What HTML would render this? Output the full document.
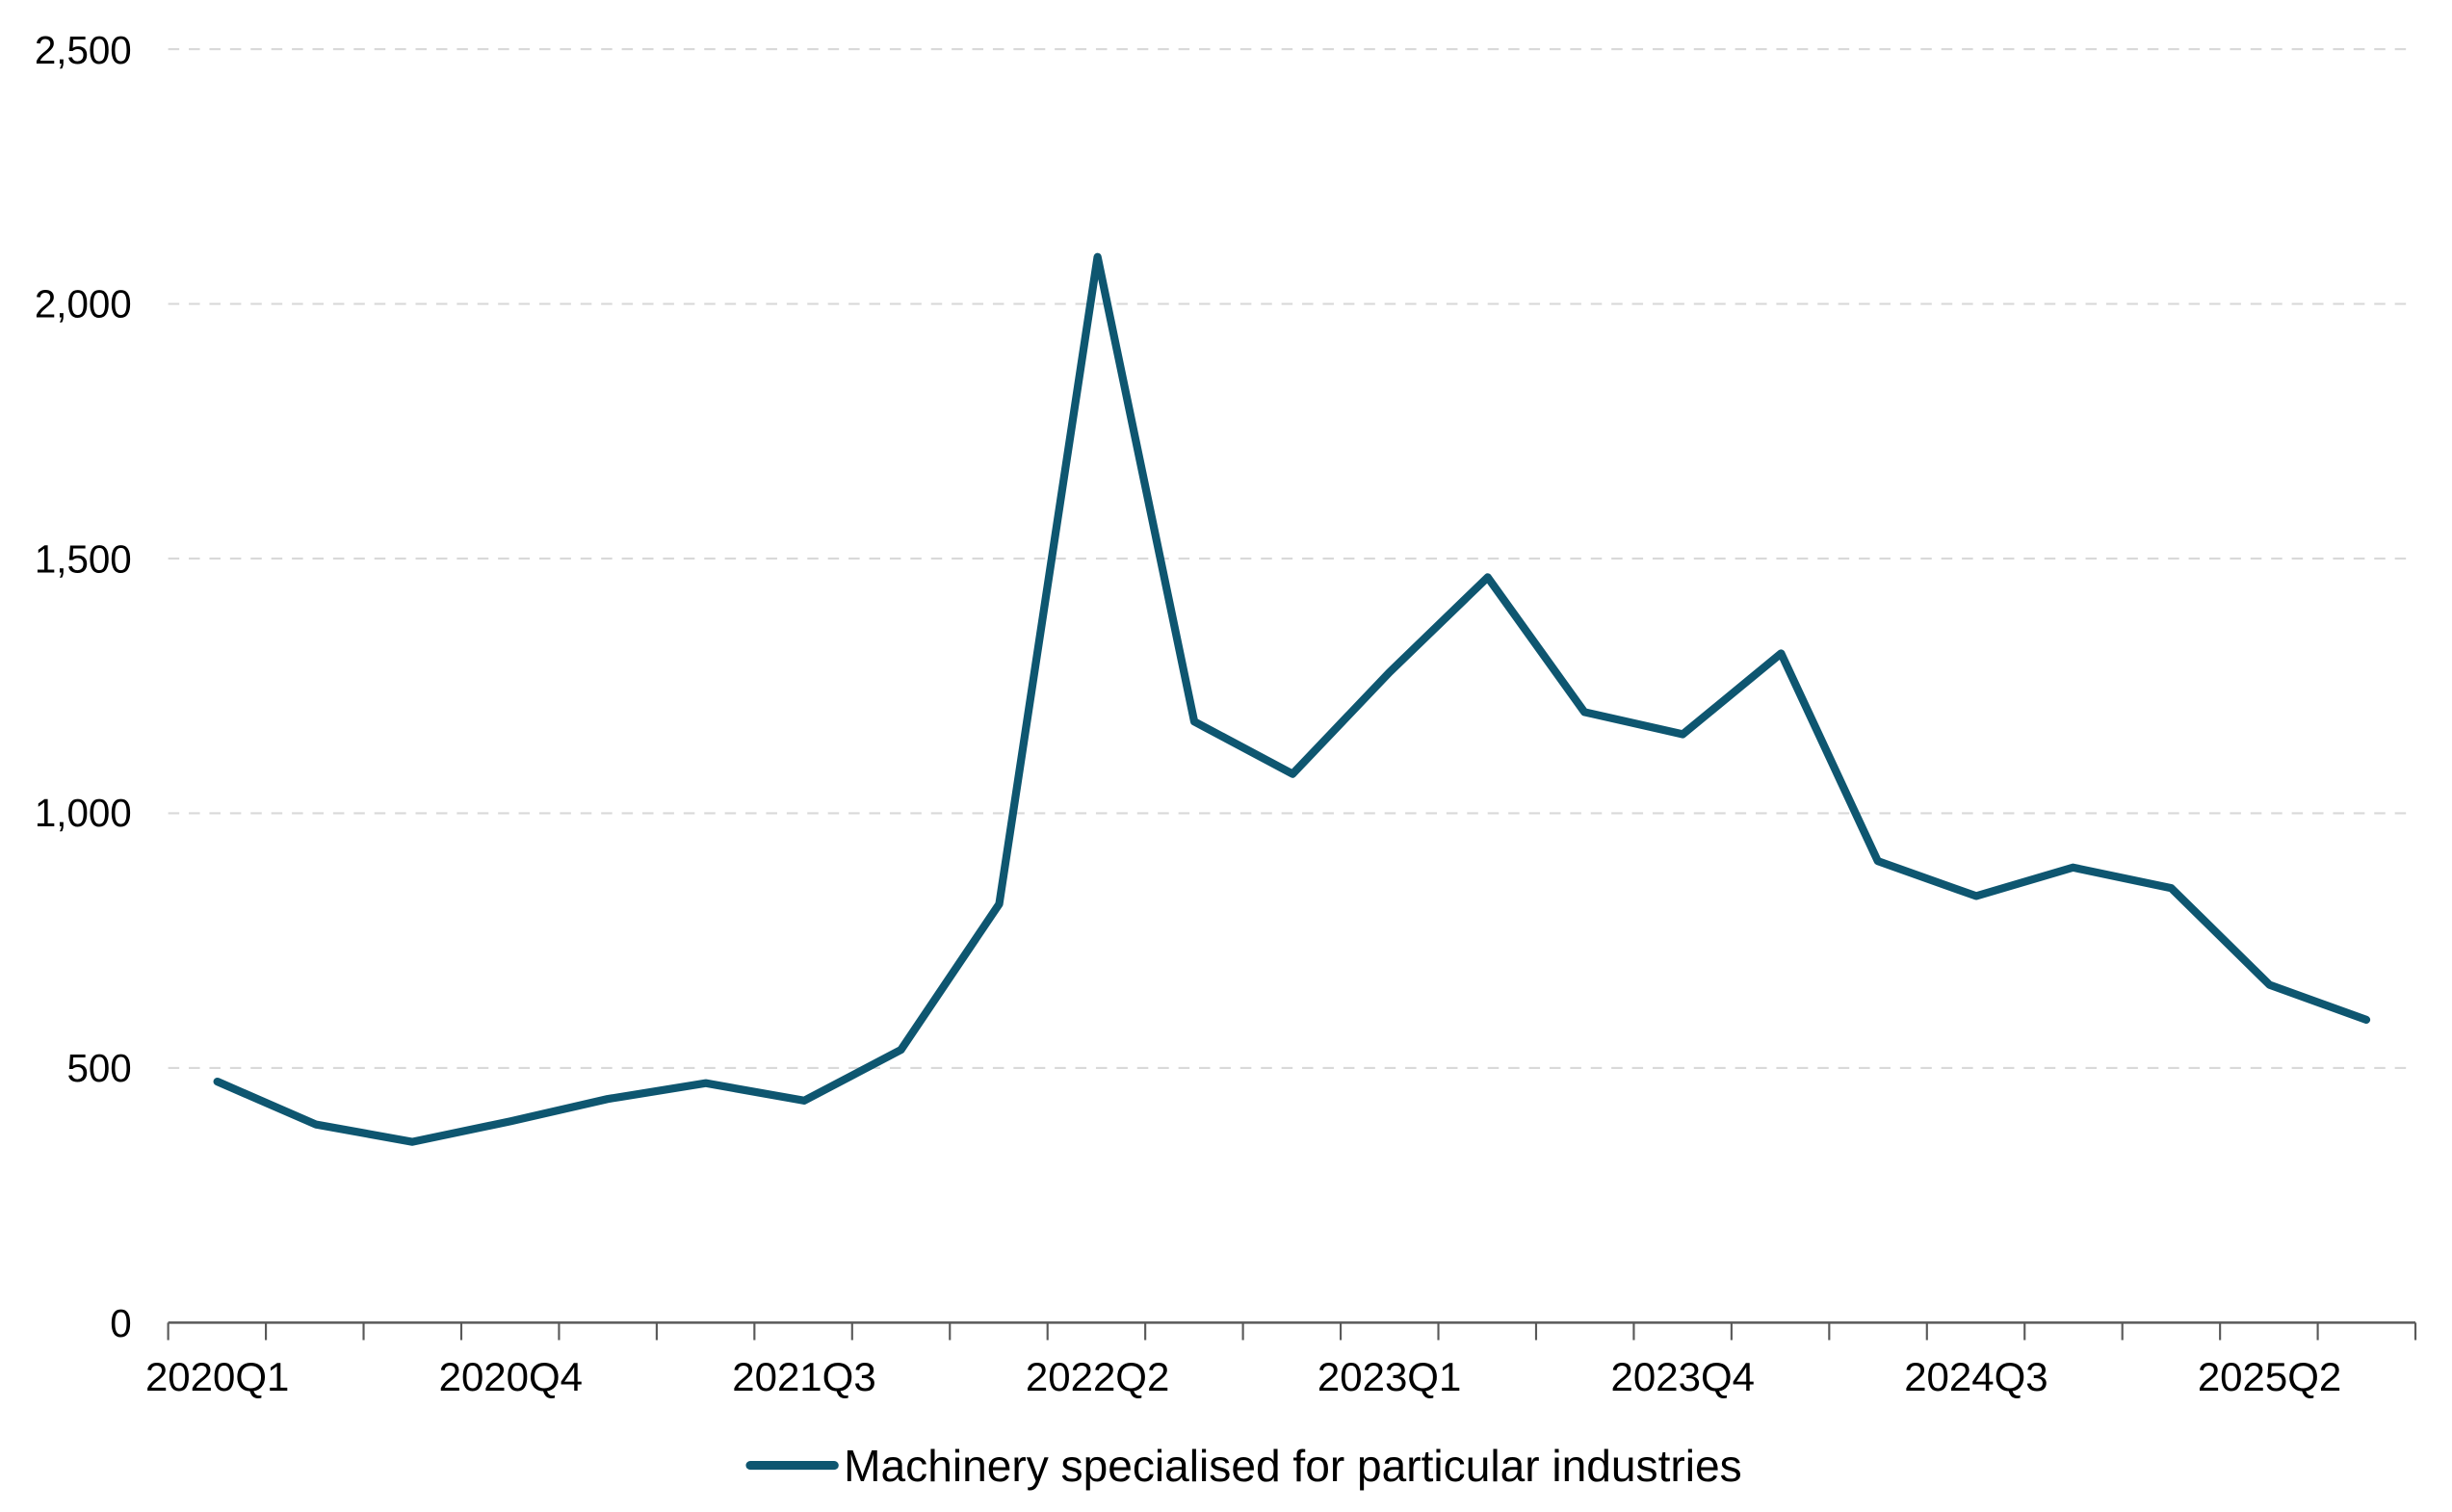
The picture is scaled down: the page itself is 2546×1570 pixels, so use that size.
<!DOCTYPE html>
<html><head><meta charset="utf-8"><style>html,body{margin:0;padding:0;background:#fff}svg{display:block}</style></head>
<body>
<svg width="2546" height="1570" viewBox="0 0 1546 953.4" xmlns="http://www.w3.org/2000/svg" font-family="Liberation Sans, sans-serif">
<g stroke="#d9d9d9" stroke-width="1.3" stroke-dasharray="7,6">
<line x1="106" x2="1523" y1="31" y2="31"/>
<line x1="106" x2="1523" y1="191.6" y2="191.6"/>
<line x1="106" x2="1523" y1="352.2" y2="352.2"/>
<line x1="106" x2="1523" y1="512.8" y2="512.8"/>
<line x1="106" x2="1523" y1="673.4" y2="673.4"/>
</g>
<g font-size="24.5" fill="#000" text-anchor="end">
<text x="83" y="40">2,500</text>
<text x="83" y="200">2,000</text>
<text x="83" y="361">1,500</text>
<text x="83" y="521">1,000</text>
<text x="83" y="682">500</text>
<text x="83" y="843">0</text>
</g>
<line x1="106" x2="1523" y1="834" y2="834" stroke="#595959" stroke-width="1.5"/>
<g stroke="#595959" stroke-width="1.3" id="ticks"></g>
<g font-size="25.5" fill="#000" text-anchor="middle">
<text x="137" y="877">2020Q1</text>
<text x="322" y="877">2020Q4</text>
<text x="507" y="877">2021Q3</text>
<text x="692" y="877">2022Q2</text>
<text x="876" y="877">2023Q1</text>
<text x="1061" y="877">2023Q4</text>
<text x="1246" y="877">2024Q3</text>
<text x="1431" y="877">2025Q2</text>
</g>
<polyline fill="none" stroke="#0e5670" stroke-width="5" stroke-linejoin="round" stroke-linecap="round" points="137,682 199,709 260,720 322,707 383,693 445,683 507,694 568,662 630,570 692,162 753,455 815,488 876,424 938,364 999,449 1061,463 1123,412 1184,543 1246,565 1307,547 1369,560 1431,621 1492,643"/>
<line x1="473" x2="526" y1="924" y2="924" stroke="#0e5670" stroke-width="5.5" stroke-linecap="round"/>
<text x="532" y="934" font-size="28" fill="#000">Machinery specialised for particular industries</text>
<script>
var g=document.getElementById('ticks');
for(var i=0;i<=23;i++){var x=106+i*1417/23;var l=document.createElementNS('http://www.w3.org/2000/svg','line');l.setAttribute('x1',x);l.setAttribute('x2',x);l.setAttribute('y1',834);l.setAttribute('y2',845);g.appendChild(l);}
</script>
</svg>
</body></html>
